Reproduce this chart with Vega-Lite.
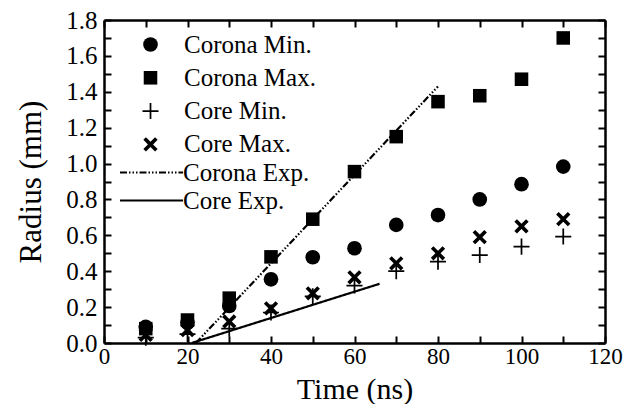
{
  "$schema": "https://vega.github.io/schema/vega-lite/v6.json",
  "width": 501,
  "height": 323,
  "autosize": {"type": "none"},
  "padding": {"left": 104, "top": 20, "right": 30, "bottom": 61},
  "background": "white",
  "config": {
    "view": {"stroke": null},
    "font": "Liberation Serif",
    "axis": {
      "domainColor": "black",
      "domainWidth": 2.5,
      "tickColor": "black",
      "tickWidth": 2,
      "tickSize": -7,
      "grid": false
    },
    "legend": {
      "labelFont": "Liberation Serif",
      "labelFontSize": 25,
      "labelColor": "black",
      "title": null
    }
  },
  "datasets": {
    "points": [
      {"series": "Corona Min.", "time": 10, "radius": 0.09},
      {"series": "Corona Min.", "time": 20, "radius": 0.113},
      {"series": "Corona Min.", "time": 30, "radius": 0.206},
      {"series": "Corona Min.", "time": 40, "radius": 0.355},
      {"series": "Corona Min.", "time": 50, "radius": 0.478},
      {"series": "Corona Min.", "time": 60, "radius": 0.528},
      {"series": "Corona Min.", "time": 70, "radius": 0.658},
      {"series": "Corona Min.", "time": 80, "radius": 0.713},
      {"series": "Corona Min.", "time": 90, "radius": 0.8},
      {"series": "Corona Min.", "time": 100, "radius": 0.885},
      {"series": "Corona Min.", "time": 110, "radius": 0.983},
      {"series": "Corona Max.", "time": 10, "radius": 0.08},
      {"series": "Corona Max.", "time": 20, "radius": 0.128},
      {"series": "Corona Max.", "time": 30, "radius": 0.25},
      {"series": "Corona Max.", "time": 40, "radius": 0.48},
      {"series": "Corona Max.", "time": 50, "radius": 0.69},
      {"series": "Corona Max.", "time": 60, "radius": 0.955},
      {"series": "Corona Max.", "time": 70, "radius": 1.15},
      {"series": "Corona Max.", "time": 80, "radius": 1.345},
      {"series": "Corona Max.", "time": 90, "radius": 1.378},
      {"series": "Corona Max.", "time": 100, "radius": 1.47},
      {"series": "Corona Max.", "time": 110, "radius": 1.7},
      {"series": "Core Min.", "time": 10, "radius": 0.03},
      {"series": "Core Min.", "time": 20, "radius": 0.05},
      {"series": "Core Min.", "time": 30, "radius": 0.08},
      {"series": "Core Min.", "time": 40, "radius": 0.17},
      {"series": "Core Min.", "time": 50, "radius": 0.26},
      {"series": "Core Min.", "time": 60, "radius": 0.32},
      {"series": "Core Min.", "time": 70, "radius": 0.4},
      {"series": "Core Min.", "time": 80, "radius": 0.453},
      {"series": "Core Min.", "time": 90, "radius": 0.49},
      {"series": "Core Min.", "time": 100, "radius": 0.537},
      {"series": "Core Min.", "time": 110, "radius": 0.593},
      {"series": "Core Max.", "time": 10, "radius": 0.045},
      {"series": "Core Max.", "time": 20, "radius": 0.072},
      {"series": "Core Max.", "time": 30, "radius": 0.12},
      {"series": "Core Max.", "time": 40, "radius": 0.193},
      {"series": "Core Max.", "time": 50, "radius": 0.277},
      {"series": "Core Max.", "time": 60, "radius": 0.366},
      {"series": "Core Max.", "time": 70, "radius": 0.444},
      {"series": "Core Max.", "time": 80, "radius": 0.5},
      {"series": "Core Max.", "time": 90, "radius": 0.59},
      {"series": "Core Max.", "time": 100, "radius": 0.65},
      {"series": "Core Max.", "time": 110, "radius": 0.69}
    ],
    "lines": [
      {"series": "Corona Exp.", "time": 22, "radius": 0.0},
      {"series": "Corona Exp.", "time": 80, "radius": 1.43},
      {"series": "Core Exp.", "time": 21, "radius": 0.0},
      {"series": "Core Exp.", "time": 66, "radius": 0.33}
    ]
  },
  "layer": [
    {
      "data": {"name": "lines"},
      "mark": {"type": "line", "color": "black", "strokeWidth": 2.2},
      "encoding": {
        "x": {
          "field": "time", "type": "quantitative",
          "scale": {"domain": [0, 120], "nice": false},
          "axis": {
            "orient": "bottom",
            "title": "Time (ns)",
            "values": [0, 10, 20, 30, 40, 50, 60, 70, 80, 90, 100, 110, 120],
            "labelExpr": "datum.value % 20 == 0 ? datum.label : ''",
            "labelFont": "Liberation Serif",
            "labelFontSize": 23,
            "labelColor": "black",
            "titleFont": "Liberation Serif",
            "titleFontSize": 30,
            "titleFontWeight": "normal",
            "titleColor": "black",
            "labelPadding": 9,
            "titlePadding": 6,
            "labelFlush": false
          }
        },
        "y": {
          "field": "radius", "type": "quantitative",
          "scale": {"domain": [0, 1.8], "nice": false},
          "axis": {
            "orient": "left",
            "title": "Radius (mm)",
            "values": [0, 0.1, 0.2, 0.3, 0.4, 0.5, 0.6, 0.7, 0.8, 0.9, 1.0, 1.1, 1.2, 1.3, 1.4, 1.5, 1.6, 1.7, 1.8],
            "format": ".1f",
            "labelExpr": "round(datum.value * 10) % 2 == 0 ? datum.label : ''",
            "labelFont": "Liberation Serif",
            "labelFontSize": 25,
            "labelColor": "black",
            "titleFont": "Liberation Serif",
            "titleFontSize": 31,
            "titleFontWeight": "normal",
            "titleColor": "black",
            "labelPadding": 14,
            "titlePadding": 18,
            "labelFlush": false
          }
        },
        "detail": {"field": "series"},
        "strokeDash": {
          "field": "series", "type": "nominal",
          "scale": {"domain": ["Corona Exp.", "Core Exp."], "range": [[7, 2, 1.5, 2, 1.5, 2, 1.5, 2], [1, 0]]},
          "legend": {
            "orient": "none",
            "legendX": 35,
            "legendY": 140,
            "symbolType": "M-3,0H3",
            "symbolSize": 441,
            "symbolStrokeWidth": 2.2,
            "symbolStrokeColor": "black",
            "labelOffset": 19,
            "rowPadding": 2,
            "padding": 0
          }
        }
      }
    },
    {
      "data": {"name": "points"},
      "mark": {"type": "point", "filled": true, "fill": "black", "strokeWidth": 0, "opacity": 1},
      "encoding": {
        "x": {
          "field": "time", "type": "quantitative",
          "axis": {
            "orient": "top",
            "title": null,
            "labels": false,
            "values": [0, 10, 20, 30, 40, 50, 60, 70, 80, 90, 100, 110, 120]
          }
        },
        "y": {
          "field": "radius", "type": "quantitative",
          "axis": {
            "orient": "right",
            "title": null,
            "labels": false,
            "values": [0, 0.1, 0.2, 0.3, 0.4, 0.5, 0.6, 0.7, 0.8, 0.9, 1.0, 1.1, 1.2, 1.3, 1.4, 1.5, 1.6, 1.7, 1.8]
          }
        },
        "shape": {
          "field": "series", "type": "nominal",
          "scale": {
            "domain": ["Corona Min.", "Corona Max.", "Core Min.", "Core Max."],
            "range": ["circle", "square", "M-1.3,-0.14H-0.14V-1.3H0.14V-0.14H1.3V0.14H0.14V1.3H-0.14V0.14H-1.3Z", "M-1.3,-0.83L-0.83,-1.3L0,-0.47L0.83,-1.3L1.3,-0.83L0.47,0L1.3,0.83L0.83,1.3L0,0.47L-0.83,1.3L-1.3,0.83L-0.47,0Z"]
          },
          "legend": {
            "orient": "none",
            "legendX": 34,
            "legendY": 12,
            "symbolFillColor": "black",
            "symbolStrokeWidth": 0,
            "labelOffset": 21,
            "rowPadding": 7.3,
            "padding": 0
          }
        },
        "size": {
          "field": "series", "type": "nominal",
          "scale": {"domain": ["Corona Min.", "Corona Max.", "Core Min.", "Core Max."], "range": [215, 121, 300, 260]}
        }
      }
    }
  ],
  "resolve": {"axis": {"x": "independent", "y": "independent"}}
}
